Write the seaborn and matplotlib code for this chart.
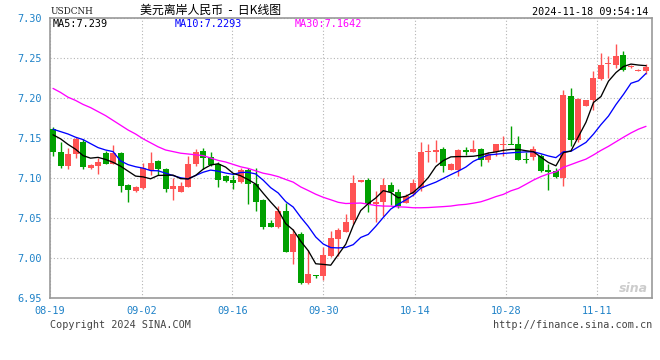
import numpy as np
import pandas as pd
import matplotlib
matplotlib.use("Agg")
import matplotlib.pyplot as plt
import seaborn as sns

# DATA (USD/CNH daily bars)
opens = [7.161, 7.133, 7.115, 7.130, 7.145, 7.113, 7.115, 7.131, 7.117, 7.131,
         7.091, 7.084, 7.088, 7.110, 7.121, 7.111, 7.086, 7.083, 7.089, 7.117,
         7.134, 7.126, 7.117, 7.102, 7.098, 7.095, 7.110, 7.092, 7.072, 7.044,
         7.039, 7.059, 7.008, 7.030, 6.969, 6.979, 6.977, 7.003, 7.024, 7.033,
         7.048, 7.095, 7.098, 7.067, 7.070, 7.091, 7.083, 7.069, 7.080, 7.087,
         7.132, 7.133, 7.136, 7.110, 7.110, 7.135, 7.133, 7.136, 7.122, 7.132,
         7.141, 7.142, 7.142, 7.124, 7.126, 7.127, 7.109, 7.109, 7.100, 7.203,
         7.148, 7.190, 7.197, 7.224, 7.242, 7.241, 7.254, 7.239, 7.234, 7.234]
highs = [7.164, 7.145, 7.137, 7.151, 7.149, 7.117, 7.125, 7.134, 7.141, 7.133,
         7.093, 7.090, 7.119, 7.132, 7.123, 7.113, 7.100, 7.095, 7.127, 7.136,
         7.137, 7.133, 7.120, 7.104, 7.104, 7.112, 7.112, 7.113, 7.074, 7.047,
         7.065, 7.069, 7.036, 7.032, 7.010, 6.979, 7.014, 7.034, 7.038, 7.055,
         7.104, 7.098, 7.100, 7.084, 7.100, 7.095, 7.086, 7.080, 7.099, 7.145,
         7.143, 7.148, 7.139, 7.119, 7.136, 7.139, 7.148, 7.138, 7.132, 7.143,
         7.152, 7.165, 7.152, 7.132, 7.140, 7.130, 7.118, 7.113, 7.210, 7.213,
         7.200, 7.197, 7.234, 7.256, 7.253, 7.268, 7.259, 7.241, 7.236, 7.242]
lows = [7.127, 7.113, 7.111, 7.125, 7.111, 7.111, 7.105, 7.117, 7.117, 7.083,
        7.070, 7.083, 7.086, 7.104, 7.104, 7.083, 7.072, 7.083, 7.089, 7.115,
        7.111, 7.115, 7.089, 7.095, 7.086, 7.094, 7.067, 7.059, 7.036, 7.039,
        7.037, 7.008, 6.993, 6.968, 6.968, 6.975, 6.972, 7.001, 7.003, 7.033,
        7.043, 7.095, 7.057, 7.045, 7.052, 7.066, 7.063, 7.069, 7.077, 7.084,
        7.120, 7.120, 7.108, 7.110, 7.103, 7.129, 7.132, 7.115, 7.120, 7.128,
        7.128, 7.142, 7.122, 7.119, 7.122, 7.108, 7.085, 7.100, 7.090, 7.140,
        7.145, 7.190, 7.185, 7.223, 7.225, 7.237, 7.234, 7.238, 7.234, 7.230]
closes = [7.132, 7.115, 7.130, 7.149, 7.114, 7.116, 7.120, 7.117, 7.131, 7.090,
          7.085, 7.089, 7.112, 7.119, 7.111, 7.086, 7.090, 7.090, 7.117, 7.133,
          7.125, 7.116, 7.098, 7.096, 7.094, 7.110, 7.092, 7.070, 7.039, 7.039,
          7.059, 7.008, 7.030, 6.969, 6.980, 6.977, 7.004, 7.025, 7.035, 7.045,
          7.094, 7.098, 7.068, 7.070, 7.091, 7.082, 7.065, 7.078, 7.094, 7.133,
          7.133, 7.134, 7.115, 7.117, 7.135, 7.133, 7.136, 7.122, 7.130, 7.142,
          7.143, 7.1415, 7.122, 7.122, 7.136, 7.109, 7.108, 7.101, 7.204, 7.147,
          7.199, 7.197, 7.225, 7.241, 7.243, 7.253, 7.235, 7.240, 7.235, 7.239]

# moving averages at the left edge depend on earlier bars ->
ma5_head = [7.154, 7.149, 7.142, 7.136]
ma10_head = [7.161, 7.158, 7.155, 7.151, 7.148, 7.143, 7.138, 7.135, 7.133]
ma30_head = [7.212, 7.207, 7.201, 7.197, 7.192, 7.188, 7.183, 7.178, 7.172, 7.166,
             7.160, 7.155, 7.149, 7.144, 7.139, 7.135, 7.133, 7.131, 7.130, 7.129,
             7.128, 7.125, 7.122, 7.120, 7.117, 7.114, 7.112, 7.109, 7.106]

tick_pos = [-0.4, 11.83, 23.9, 36.0, 48.2, 60.4, 72.5]
tick_labels = ["08-19", "09-02", "09-16", "09-30", "10-14", "10-28", "11-11"]
y_ticks = [6.95, 7.00, 7.05, 7.10, 7.15, 7.20, 7.25, 7.30]

df = pd.DataFrame({"open": opens, "high": highs, "low": lows, "close": closes})
df["idx"] = np.arange(len(df))
for n, head in [(5, ma5_head), (10, ma10_head), (30, ma30_head)]:
    ma = df["close"].rolling(n).mean()
    ma.iloc[:len(head)] = head
    df[f"ma{n}"] = ma

# CONFIG
sns.set_theme(style="white")
plt.rcParams["font.family"] = ["DejaVu Sans Mono", "DejaVu Sans"]

RED = "#ff5353"
GREEN = "#00a000"
BLUE_TXT = "#1f82c8"
W, H = 660, 360

fig = plt.figure(figsize=(6.6, 3.6), dpi=100)
ax = fig.add_axes([50 / W, 1 - 298 / H, 602 / W, 280 / H])

# candles
up = df["close"] >= df["open"]
cols = np.where(up, RED, GREEN)
bottom = df[["open", "close"]].min(axis=1)
height = (df["close"] - df["open"]).abs().clip(lower=0.0014)
ax.vlines(df["idx"], df["low"], df["high"], colors=cols, lw=1.0, zorder=2)
ax.bar(df["idx"], height, bottom=bottom, width=0.8, color=cols, linewidth=0, zorder=3)

# moving averages
sns.lineplot(data=df, x="idx", y="ma30", color="#ff00ff", lw=0.95, ax=ax, zorder=4)
sns.lineplot(data=df, x="idx", y="ma10", color="#0000ff", lw=0.95, ax=ax, zorder=5)
sns.lineplot(data=df, x="idx", y="ma5", color="black", lw=0.95, ax=ax, zorder=6)

ax.set_xlim(-0.4, 79.8)
ax.set_ylim(6.95, 7.30)
ax.set_xticks(tick_pos)
ax.set_xticklabels(tick_labels)
ax.set_yticks(y_ticks)
ax.set_yticklabels([f"{v:.2f}" for v in y_ticks])
ax.tick_params(length=0, labelsize=7.4, colors=BLUE_TXT, pad=6)
ax.set_xlabel("")
ax.set_ylabel("")
ax.grid(True, color="#b4b4b4", ls=(0, (1, 2)), lw=0.8)
ax.set_axisbelow(True)
for s in ax.spines.values():
    s.set_color("#999999")
    s.set_linewidth(1.2)

# header
fig.text(51 / W, 1 - 11 / H, "USDCNH", family="DejaVu Serif", fontsize=6.4,
         color="#222222", va="center")
fig.text(140 / W, 1 - 10 / H, "美元离岸人民币  -  日K线图",
         family=["Noto Sans CJK SC", "DejaVu Sans"], fontsize=8.6, color="black", va="center")
fig.text(648 / W, 1 - 12 / H, "2024-11-18 09:54:14", fontsize=7.3, color="black",
         ha="right", va="center")
fig.text(53 / W, 1 - 24 / H, "MA5:7.239", fontsize=7.3, color="black", va="center")
fig.text(175 / W, 1 - 24 / H, "MA10:7.2293", fontsize=7.3, color="#0000ff", va="center")
fig.text(295 / W, 1 - 24 / H, "MA30:7.1642", fontsize=7.3, color="#ff00ff", va="center")

# footer
fig.text(50 / W, 1 - 325 / H, "Copyright 2024 SINA.COM", fontsize=7.3, color="#444444", va="center")
fig.text(652 / W, 1 - 325 / H, "http://finance.sina.com.cn", fontsize=7.3, color="#444444",
         ha="right", va="center")
fig.text(648 / W, 1 - 289 / H, "sina", family="DejaVu Sans", fontsize=9, fontweight="bold",
         style="italic", color="#cccccc", ha="right", va="center")

fig.savefig("out.png", dpi=100)
